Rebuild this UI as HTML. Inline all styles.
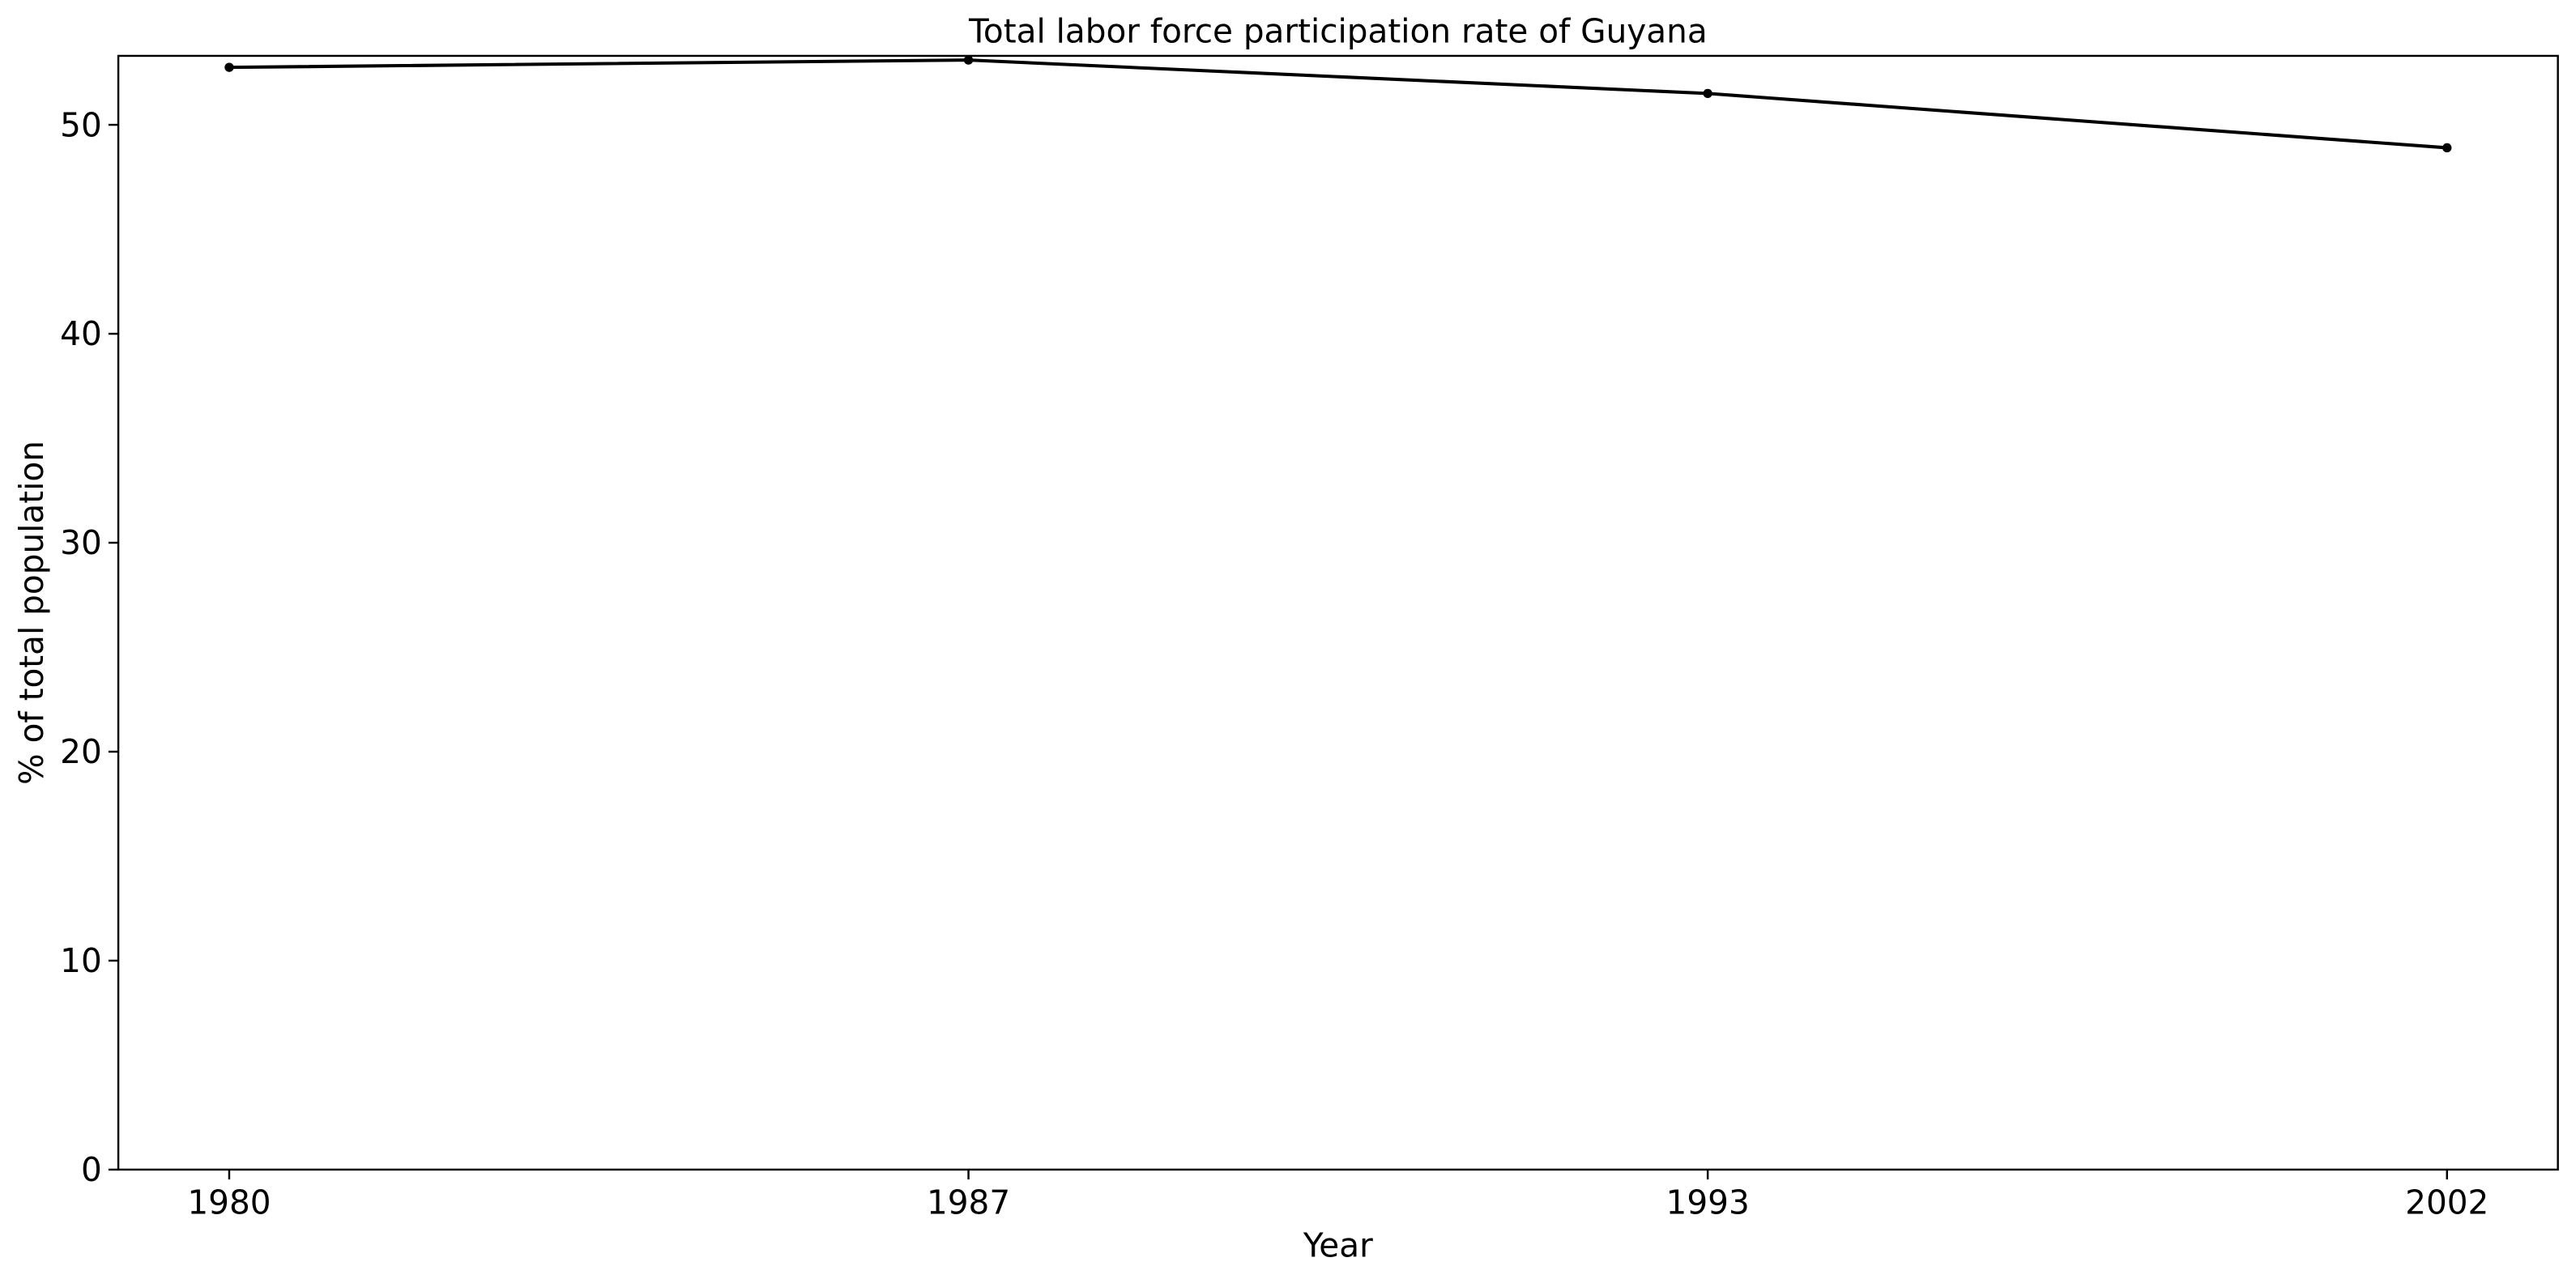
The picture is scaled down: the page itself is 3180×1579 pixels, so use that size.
<!DOCTYPE html>
<html><head><meta charset="utf-8"><style>html,body{margin:0;padding:0;background:#fff}svg{display:block}</style></head>
<body>
<svg id="chart" width="3180" height="1579" viewBox="0 0 1568 778.6" xmlns="http://www.w3.org/2000/svg" font-family="'DejaVu Sans','Liberation Sans',sans-serif">
<rect width="1568" height="778.6" fill="#fff"/>
<text x="814.5" y="26" text-anchor="middle" font-size="20">Total labor force participation rate of Guyana</text>
<text x="814.5" y="765" text-anchor="middle" font-size="20">Year</text>
<text transform="translate(26,373) rotate(-90)" text-anchor="middle" font-size="20">% of total population</text>
<g id="plot"></g>
<rect x="72" y="34" width="1485" height="678" fill="none" stroke="#000" stroke-width="1.2"/>
</svg>
<script>
const categories = ["1980","1987","1993","2002"];
const values = [52.75, 53.1, 51.5, 48.9];
const yTicks = [0,10,20,30,40,50];
const L=72,R=1557,T=34,B=712,yMax=53.3;
function xs(i){return L+(i+0.15)/3.3*(R-L);}
function ys(v){return B-v/yMax*(B-T);}
const g=document.getElementById('plot');
const NS='http://www.w3.org/2000/svg';
function mk(t,a){const e=document.createElementNS(NS,t);for(const k in a)e.setAttribute(k,a[k]);g.appendChild(e);return e;}
yTicks.forEach(v=>{
  const tk=mk('line',{x1:L-6,x2:L,y1:ys(v),y2:ys(v),stroke:'#000','stroke-width':1.2});
  
  
  const t=mk('text',{x:L-10,y:ys(v)+7,'text-anchor':'end','font-size':20});
  t.textContent=v;
  
  
});
categories.forEach((c,i)=>{
  const tk=mk('line',{x1:xs(i),x2:xs(i),y1:B,y2:B+6,stroke:'#000','stroke-width':1.2});
  
  
  const t=mk('text',{x:xs(i),y:B+27,'text-anchor':'middle','font-size':20});
  t.textContent=c;
  
  
});
const pts=values.map((v,i)=>xs(i)+','+ys(v)).join(' ');
const line=mk('polyline',{points:pts,fill:'none',stroke:'#000','stroke-width':2});


values.forEach((v,i)=>{
  const p=mk('circle',{cx:xs(i),cy:ys(v),r:2.8,fill:'#000'});
  
  
});
</script>
</body></html>
